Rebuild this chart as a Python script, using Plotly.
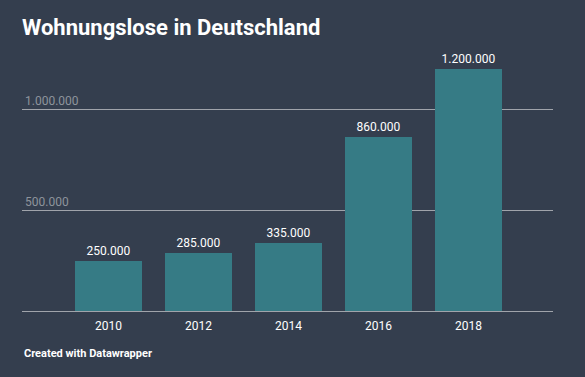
import plotly.graph_objects as go

years = ["2010", "2012", "2014", "2016", "2018"]
values = [250000, 285000, 335000, 860000, 1200000]
grid_vals = [500000, 1000000]
grid_text = ["500.000", "1.000.000"]

BG = "#343e4e"
BAR = "#367b85"

x_pos = list(range(len(years)))

fig = go.Figure()
fig.add_trace(go.Bar(
    x=x_pos, y=values, width=0.745,
    marker=dict(color=BAR, line=dict(width=0)),
    texttemplate="%{y:,}", textposition="outside",
    textfont=dict(color="#ffffff", size=12, family="Roboto"),
    cliponaxis=False, hoverinfo="skip",
))

fig.update_layout(
    width=585, height=377,
    paper_bgcolor=BG, plot_bgcolor=BG,
    separators=",.",
    margin=dict(l=22, r=32, t=60, b=66),
    showlegend=False,
    font=dict(family="Roboto", color="#ffffff"),
    title=dict(text="<b>Wohnungslose in Deutschland</b>", x=0, xref="paper", xanchor="left",
               y=1 - 27/377, yanchor="middle", yref="container",
               font=dict(size=22, color="#ffffff", family="Roboto")),
    xaxis=dict(range=[-0.961, 4.939], tickvals=x_pos, ticktext=years,
               showgrid=False, zeroline=False, showline=False,
               tickfont=dict(size=12, color="#ffffff", family="Roboto"),
               ticks="outside", ticklen=4, tickcolor="rgba(0,0,0,0)"),
    yaxis=dict(range=[0, 1242574], tickvals=grid_vals, ticktext=grid_text,
               showgrid=True, gridcolor="#a0a4ab", gridwidth=1,
               zeroline=True, zerolinecolor="#a0a4ab", zerolinewidth=1,
               ticklabelposition="inside top",
               tickfont=dict(size=12, color="#8e949c", family="Roboto"),
               showline=False, ticks=""),
    bargap=0,
    annotations=[dict(text="<b>Created with Datawrapper</b>", x=0, xref="paper", xanchor="left",
                      y=-(353 - 311) / (311 - 60), yref="paper", yanchor="middle", showarrow=False,
                      font=dict(size=11, color="#ffffff", family="Roboto"))],
)

fig.write_html("out.html", config={"displayModeBar": False},
               post_script="document.body.style.margin='0';")
